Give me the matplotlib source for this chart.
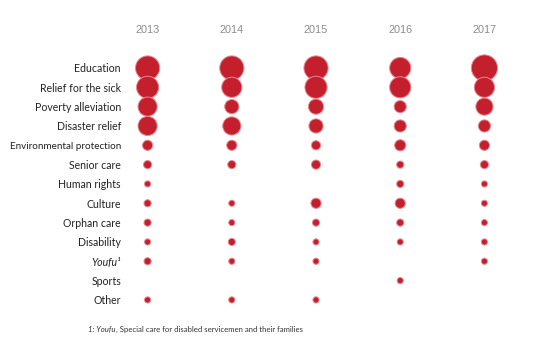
import numpy as np
import matplotlib
matplotlib.use("Agg")
import matplotlib.pyplot as plt

years = ["2013", "2014", "2015", "2016", "2017"]
causes = ["Education", "Relief for the sick", "Poverty alleviation", "Disaster relief",
          "Environmental protection", "Senior care", "Human rights", "Culture",
          "Orphan care", "Disability", "Youfu\u00b9", "Sports", "Other"]

# relative bubble size per cause (rows) and year (columns); 0 = no bubble
education   = [25, 25, 25, 22, 27]
sick        = [23, 21, 23, 22, 21]
poverty     = [20, 15, 16, 13, 18]
disaster    = [20, 19, 15, 13, 13]
environment = [11, 11, 10, 12, 11]
senior      = [9, 9, 10, 8, 9]
human       = [7, 0, 0, 8, 7]
culture     = [8, 7, 11, 11, 7]
orphan      = [8, 7, 8, 8, 7]
disability  = [7, 8, 7, 7, 7]
youfu       = [8, 7, 7, 0, 7]
sports      = [0, 0, 0, 7, 0]
other       = [7, 7, 7, 0, 0]

rows = [education, sick, poverty, disaster, environment, senior, human,
        culture, orphan, disability, youfu, sports, other]

plt.rcParams['font.family'] = ['Lato', 'DejaVu Sans']

W, H = 546, 350
fig = plt.figure(figsize=(W / 100, H / 100), dpi=100)
ax = fig.add_axes([130 / W, 35 / H, 401 / W, 265 / H])

xs, ys, ss = [], [], []
for i, row in enumerate(rows):
    for j, v in enumerate(row):
        if v > 0:
            xs.append(j)
            ys.append(i)
            ss.append((v * 0.72 - 0.6) ** 2)

ax.scatter(xs, ys, s=ss, color="#c41f2d", edgecolors="#e88890", linewidths=0.7, zorder=3)

ax.set_xlim(-0.209, 4.553)
ax.set_ylim(12.78, -0.93)

ax.set_xticks(range(len(years)))
ax.set_xticklabels(years, fontsize=7.8, color="#8c8c8c", family=['Liberation Sans'])
ax.xaxis.tick_top()
ax.tick_params(axis="x", length=0, pad=11)

ax.set_yticks(range(len(causes)))
ax.set_yticklabels(causes, fontsize=7.6, color="#222222")
ax.tick_params(axis="y", length=0, pad=6.5)
ax.get_yticklabels()[10].set_style("italic")
ax.get_yticklabels()[4].set_fontsize(7.1)

for s in ax.spines.values():
    s.set_visible(False)

t1 = fig.text(88 / W, 1 - 329 / H, "1: Youfu", fontsize=5.6, style="italic",
              color="#333333", va="center")
ax.annotate(", Special care for disabled servicemen and their families",
            xy=(1, 0.5), xycoords=t1, va="center", fontsize=5.6, color="#333333")

fig.savefig("out.png", dpi=100)
